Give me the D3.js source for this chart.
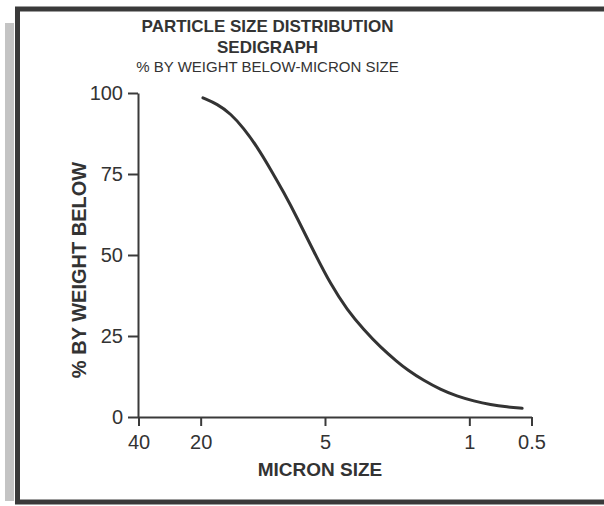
<!DOCTYPE html>
<html>
<head>
<meta charset="utf-8">
<script src="https://cdn.jsdelivr.net/npm/d3@7"></script>
<style>
  html, body { margin: 0; padding: 0; background: #fff; overflow: hidden; }
  svg { display: block; }
  text { font-family: "Liberation Sans", Arial, Helvetica, sans-serif; fill: #333; }
</style>
</head>
<body>
<svg id="chart" width="604" height="506"></svg>
<script>
// ---- data ----
const titleLines = ["PARTICLE SIZE DISTRIBUTION", "SEDIGRAPH"];
const subtitle = "% BY WEIGHT BELOW-MICRON SIZE";
const xLabel = "MICRON SIZE";
const yLabel = "% BY WEIGHT BELOW";
const xTicks = [40, 20, 5, 1, 0.5];
const yTicks = [0, 25, 50, 75, 100];
const microns = [19.5, 16.6, 14.3, 12.4, 10.6, 9.18, 7.91, 6.82, 5.66, 4.70, 3.90, 3.24, 2.69, 2.23, 2.00, 1.66, 1.38, 1.15, 0.95, 0.79, 0.655, 0.555];
const percent = [98.5, 96.6, 93.6, 89.2, 83.2, 76.5, 69.3, 61.5, 51.0, 41.0, 33.0, 26.9, 21.5, 17.0, 14.6, 11.2, 8.5, 6.4, 4.9, 3.8, 3.1, 2.7];

const svg = d3.select("#chart");
const ink = "#333";

// scan shadow strip and frame
svg.append("rect").attr("x", 5).attr("y", 23).attr("width", 9).attr("height", 478).attr("fill", "#c4c4c4");
svg.append("rect").attr("x", 17.5).attr("y", 9).attr("width", 700).attr("height", 493)
  .attr("fill", "#fff").attr("stroke", "#3a3a3a").attr("stroke-width", 5);

const x = d3.scaleLog().domain([40, 0.5]).range([138.5, 531.5]);
const y = d3.scaleLinear().domain([0, 100]).range([417, 93]);

// titles
svg.append("text").attr("x", 267.5).attr("y", 31.5).attr("text-anchor", "middle")
  .attr("font-size", 17).attr("font-weight", "bold").text(titleLines[0]);
svg.append("text").attr("x", 267.5).attr("y", 52.5).attr("text-anchor", "middle")
  .attr("font-size", 17).attr("font-weight", "bold").text(titleLines[1]);
svg.append("text").attr("x", 267.5).attr("y", 71.5).attr("text-anchor", "middle")
  .attr("font-size", 15).text(subtitle);

// axes
const fmt = d => String(d);
const gx = svg.append("g").attr("transform", `translate(0,${y(0)})`)
  .call(d3.axisBottom(x).tickValues(xTicks).tickFormat(fmt).tickSize(9).tickSizeOuter(0).tickPadding(9));
const gy = svg.append("g").attr("transform", `translate(${x(40) - 0.5},0)`)
  .call(d3.axisLeft(y).tickValues(yTicks).tickFormat(fmt).tickSize(10).tickSizeOuter(0).tickPadding(5));

[gx, gy].forEach(g => {
  g.select(".domain").attr("stroke", "#3a3a3a").attr("stroke-width", 2);
  g.selectAll(".tick line").attr("stroke", "#3a3a3a").attr("stroke-width", 2);
  g.selectAll(".tick text").attr("font-size", 20).attr("fill", ink)
    .attr("font-family", '"Liberation Sans", Arial, sans-serif');
});

// axis titles
svg.append("text").attr("x", 320).attr("y", 476).attr("text-anchor", "middle")
  .attr("font-size", 19).attr("font-weight", "bold").text(xLabel);
svg.append("text").attr("transform", "translate(86,270) rotate(-90)").attr("text-anchor", "middle")
  .attr("font-size", 20).attr("font-weight", "bold").text(yLabel);

// curve
const pts = microns.map((m, i) => [m, percent[i]]);
const line = d3.line().x(d => x(d[0])).y(d => y(d[1])).curve(d3.curveBasis);
svg.append("path").datum(pts).attr("d", line)
  .attr("fill", "none").attr("stroke", "#333").attr("stroke-width", 3).attr("stroke-linecap", "round");
</script>
</body>
</html>
